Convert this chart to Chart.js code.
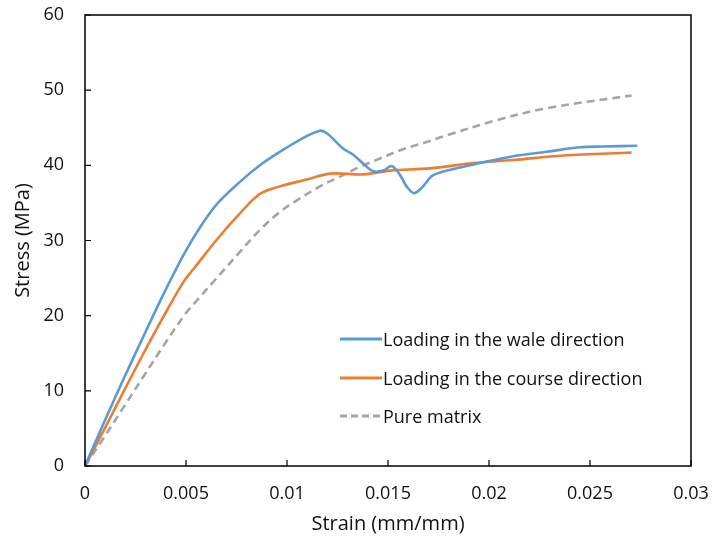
<!DOCTYPE html>
<html>
<head>
<meta charset="utf-8">
<script src="https://cdn.jsdelivr.net/npm/chart.js@4.4.1/dist/chart.umd.min.js"></script>
<style>
  html, body { margin: 0; padding: 0; background: #fff; }
  #wrap { position: relative; width: 713px; height: 540px; }
  #legend { position: absolute; left: 340px; top: 320px; font-family: "Open Sans", sans-serif; font-size: 18px; color: #111; }
  .row { display: flex; align-items: center; height: 38.5px; }
  .row svg { width: 42px; height: 6px; margin-right: 1px; }
</style>
</head>
<body>
<div id="wrap">
  <canvas id="chart" width="713" height="540"></canvas>
  <div id="legend"></div>
</div>
<script>
// stress-strain curves
const waleStrain = [0, 0.00094, 0.00193, 0.00292, 0.00391, 0.0049, 0.00573, 0.00655, 0.00767, 0.00866, 0.00965, 0.01064, 0.01163, 0.012, 0.01279, 0.01328, 0.01386, 0.01427, 0.01477, 0.01518, 0.0156, 0.01592, 0.01629, 0.0167, 0.01724, 0.01856, 0.01955, 0.0212, 0.02286, 0.0245, 0.02566, 0.02734];
const waleStress = [0, 5.8, 11.7, 17.4, 23.0, 28.2, 31.9, 34.9, 37.8, 40.0, 41.8, 43.4, 44.6, 44.2, 42.2, 41.4, 40.0, 39.2, 39.3, 39.9, 38.7, 37.2, 36.3, 37.1, 38.7, 39.7, 40.3, 41.2, 41.8, 42.4, 42.5, 42.6];

const courseStrain = [0, 0.00094, 0.00193, 0.00292, 0.00391, 0.0049, 0.0054, 0.00655, 0.00767, 0.00866, 0.00965, 0.01097, 0.01213, 0.01378, 0.0151, 0.01708, 0.01922, 0.0212, 0.02368, 0.02706];
const courseStress = [0, 4.8, 10.0, 15.1, 20.0, 24.6, 26.3, 30.2, 33.6, 36.2, 37.2, 38.1, 38.9, 38.8, 39.3, 39.6, 40.3, 40.7, 41.3, 41.7];

const matrixStrain = [0, 0.00094, 0.00193, 0.00292, 0.00391, 0.0049, 0.0054, 0.00655, 0.00767, 0.00866, 0.00965, 0.01064, 0.01163, 0.01262, 0.01361, 0.0146, 0.0156, 0.01691, 0.0179, 0.02038, 0.02286, 0.02706];
const matrixStress = [0, 3.8, 7.9, 12.0, 16.1, 20.0, 21.6, 25.1, 28.5, 31.4, 33.8, 35.6, 37.2, 38.5, 39.8, 40.9, 42.0, 43.1, 44.0, 46.0, 47.6, 49.3];

const seriesNames = ['Loading in the wale direction', 'Loading in the course direction', 'Pure matrix'];
const seriesColors = ['#5B9BD5', '#ED7D31', '#A5A5A5'];
const xTicks = [0, 0.005, 0.01, 0.015, 0.02, 0.025, 0.03];
const yTicks = [0, 10, 20, 30, 40, 50, 60];

const fontFamily = '"Open Sans", sans-serif';

function toPoints(xs, ys) {
  return xs.map((x, i) => ({ x: x, y: ys[i] }));
}

// box round the plot and small ticks pointing inward
const frame = {
  id: 'frame',
  afterDraw(chart) {
    const { ctx, chartArea: a, scales } = chart;
    ctx.save();
    ctx.strokeStyle = '#000';
    ctx.lineWidth = 1.5;
    ctx.strokeRect(a.left, a.top, a.right - a.left, a.bottom - a.top);
    ctx.lineWidth = 1.2;
    ctx.beginPath();
    xTicks.forEach(v => {
      const px = scales.x.getPixelForValue(v);
      ctx.moveTo(px, a.bottom);
      ctx.lineTo(px, a.bottom - 6);
    });
    yTicks.forEach(v => {
      const py = scales.y.getPixelForValue(v);
      ctx.moveTo(a.left, py);
      ctx.lineTo(a.left + 6, py);
    });
    ctx.stroke();
    ctx.restore();
  }
};

const datasets = [
  toPoints(waleStrain, waleStress),
  toPoints(courseStrain, courseStress),
  toPoints(matrixStrain, matrixStress)
].map((pts, i) => ({
  label: seriesNames[i],
  data: pts,
  borderColor: seriesColors[i],
  borderWidth: 2.6,
  borderDash: i === 2 ? [8, 5] : [],
  pointRadius: 0,
  fill: false,
  tension: 0.35
}));

new Chart(document.getElementById('chart'), {
  type: 'line',
  data: { datasets: datasets },
  options: {
    responsive: false,
    animation: false,
    layout: { padding: { top: 15, right: 22, left: 0, bottom: 0 } },
    plugins: { legend: { display: false }, tooltip: { enabled: false } },
    scales: {
      x: {
        type: 'linear',
        min: 0, max: 0.03,
        afterBuildTicks: s => { s.ticks = xTicks.map(v => ({ value: v })); },
        afterFit: s => { s.height = 74; s.paddingLeft = 0; s.paddingRight = 0; },
        grid: { display: false, drawTicks: false },
        border: { display: false },
        ticks: { padding: 17, color: '#111', font: { family: fontFamily, size: 18 }, maxRotation: 0,
          callback: v => String(v) },
        title: { display: true, text: 'Strain (mm/mm)', color: '#111', font: { family: fontFamily, size: 20 }, padding: { top: 0, bottom: 4 } }
      },
      y: {
        min: 0, max: 60,
        afterBuildTicks: s => { s.ticks = yTicks.map(v => ({ value: v })); },
        afterFit: s => { s.width = 85; s.paddingTop = 0; s.paddingBottom = 0; },
        grid: { display: false, drawTicks: false },
        border: { display: false },
        ticks: { padding: 21, color: '#111', font: { family: fontFamily, size: 18 } },
        title: { display: true, text: 'Stress (MPa)', color: '#111', font: { family: fontFamily, size: 20 }, padding: { top: 11, bottom: 0 } }
      }
    }
  },
  plugins: [frame]
});

// legend sits inside the plot, built from the same names and colours
const legend = document.getElementById('legend');
seriesNames.forEach((name, i) => {
  const row = document.createElement('div');
  row.className = 'row';
  const dash = i === 2 ? 'stroke-dasharray="7 4"' : '';
  row.innerHTML = `<svg viewBox="0 0 42 6"><line x1="0" y1="3" x2="42" y2="3" stroke="${seriesColors[i]}" stroke-width="3" ${dash}/></svg><span>${name}</span>`;
  legend.appendChild(row);
});
</script>
</body>
</html>
